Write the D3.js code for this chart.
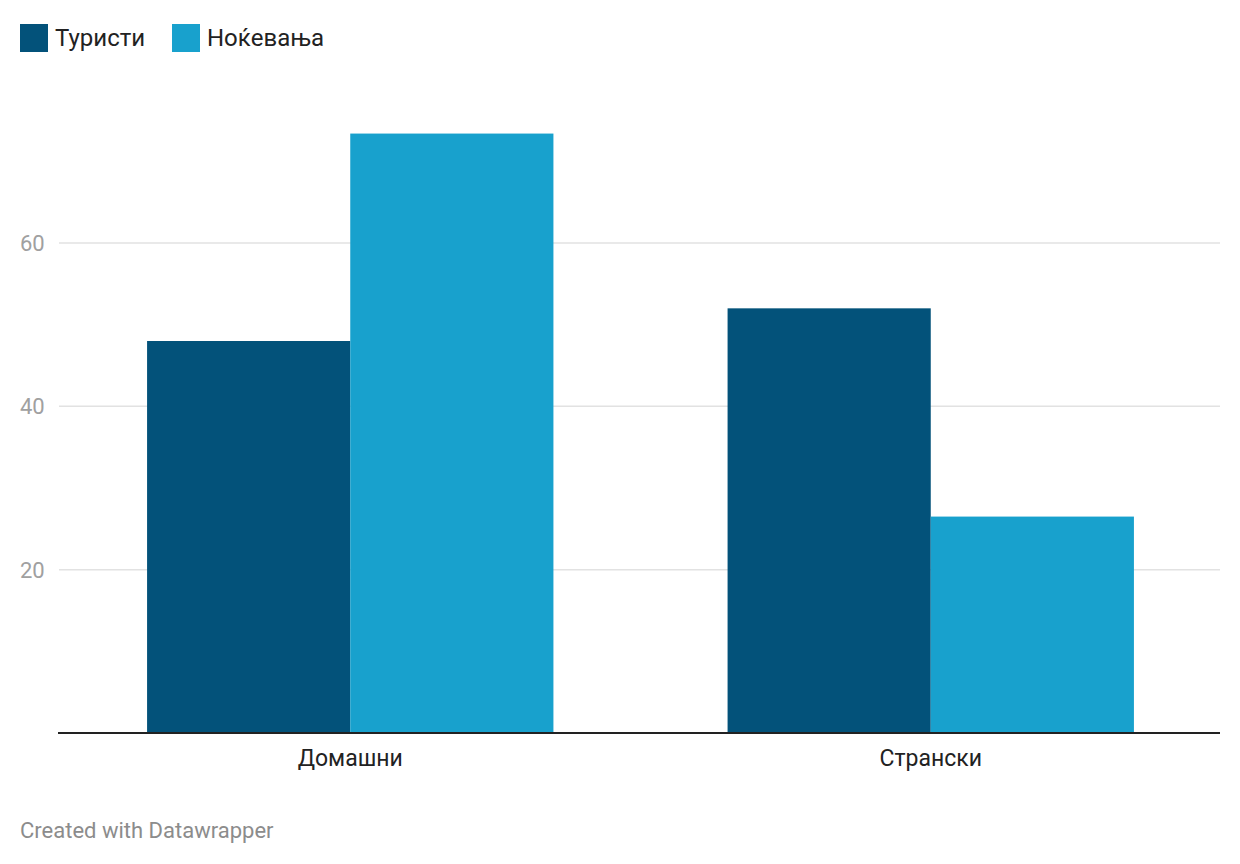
<!DOCTYPE html>
<html><head><meta charset="utf-8">
<script src="https://cdn.jsdelivr.net/npm/d3@7"></script>
<style>body{margin:0;background:#fff;font-family:Roboto,sans-serif}</style>
</head><body><svg id="c" width="1240" height="864"></svg>
<script>
const categories = ["Домашни", "Странски"];
const seriesNames = ["Туристи", "Ноќевања"];
const turisti = [48, 52];
const nokevanja = [73.4, 26.5];
const yTicks = [20, 40, 60];
const colors = ["#03527a", "#18a1cd"];

const svg = d3.select("#c");
const x = d3.scaleBand().domain(categories).range([60, 1221]).padding(0);
const y = d3.scaleLinear().domain([0, 60]).range([733, 243]);
const sub = d3.scaleBand().domain(seriesNames).range([0, x.bandwidth()*0.7]);

// grid
svg.append("g").selectAll("line").data(yTicks).join("line")
  .attr("x1", 59).attr("x2", 1220).attr("y1", d=>y(d)).attr("y2", d=>y(d))
  .attr("stroke", "#e2e2e2").attr("stroke-width", 1.5);
svg.append("g").selectAll("text").data(yTicks).join("text")
  .attr("x", 20).attr("y", d=>y(d)+8).text(d=>d)
  .attr("font-size", 22).attr("fill", "#a0a0a0");

const data = categories.map((c,i)=>({c, vals:[turisti[i], nokevanja[i]]}));
const g = svg.append("g").selectAll("g").data(data).join("g")
  .attr("transform", d=>`translate(${x(d.c)+x.bandwidth()*0.15},0)`);
g.selectAll("rect").data(d=>d.vals.map((v,j)=>({v, s:seriesNames[j], j}))).join("rect")
  .attr("x", d=>sub(d.s)).attr("width", sub.bandwidth())
  .attr("y", d=>y(d.v)).attr("height", d=>y(0)-y(d.v))
  .attr("fill", d=>colors[d.j]);

svg.append("line").attr("x1", 58).attr("x2", 1220).attr("y1", 733).attr("y2", 733)
  .attr("stroke", "#222").attr("stroke-width", 2);

svg.append("g").selectAll("text").data(categories).join("text")
  .attr("x", d=>x(d)+x.bandwidth()/2).attr("y", 766).attr("text-anchor","middle")
  .attr("font-size", 23).attr("fill", "#222").text(d=>d);

// legend
const legX = [20, 172];
const lg = svg.append("g").selectAll("g").data(seriesNames).join("g")
  .attr("transform", (d,i)=>`translate(${legX[i]},24)`);
lg.append("rect").attr("width", 28).attr("height", 28).attr("fill", (d,i)=>colors[i]);
lg.append("text").attr("x", 35).attr("y", 22).attr("font-size", 24).attr("fill", "#222").text(d=>d);

svg.append("text").attr("x", 20).attr("y", 838).attr("font-size", 22).attr("fill", "#8c8c8c")
  .text("Created with Datawrapper");
</script></body></html>
